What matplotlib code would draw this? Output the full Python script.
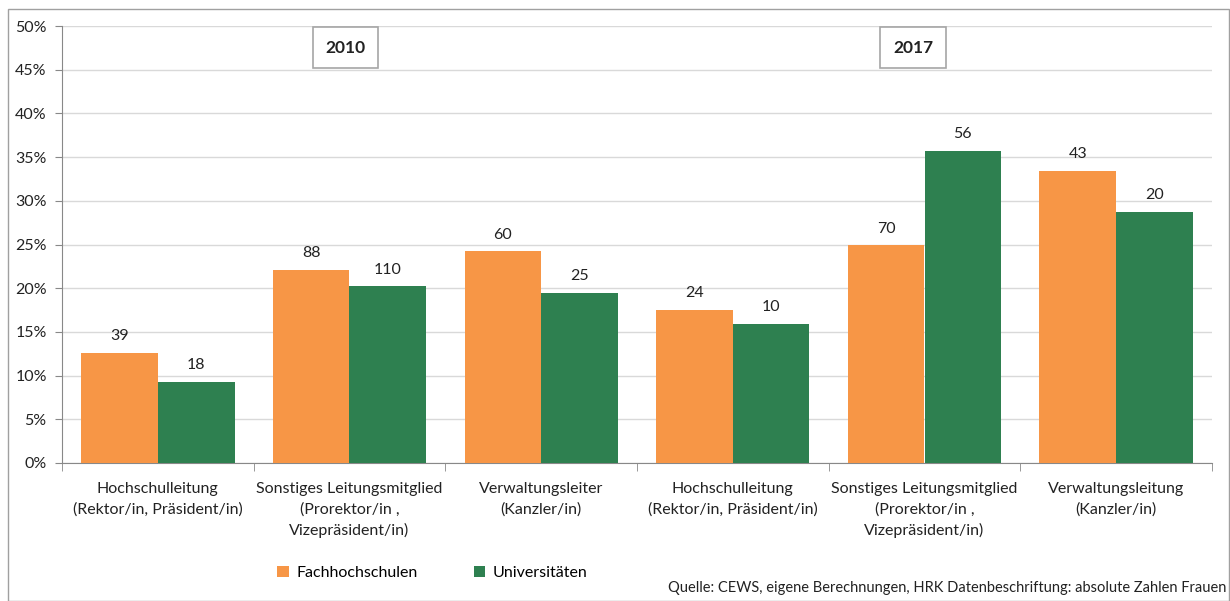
import matplotlib
matplotlib.use("Agg")
import matplotlib.pyplot as plt
import numpy as np
from matplotlib.patches import Rectangle

categories = [
    "Hochschulleitung\n(Rektor/in, Präsident/in)",
    "Sonstiges Leitungsmitglied\n(Prorektor/in ,\nVizepräsident/in)",
    "Verwaltungsleiter\n(Kanzler/in)",
    "Hochschulleitung\n(Rektor/in, Präsident/in)",
    "Sonstiges Leitungsmitglied\n(Prorektor/in ,\nVizepräsident/in)",
    "Verwaltungsleitung\n(Kanzler/in)",
]
fh_pct = [12.6, 22.1, 24.2, 17.5, 24.9, 33.4]
uni_pct = [9.3, 20.2, 19.5, 15.9, 35.7, 28.7]
fh_counts = [39, 88, 60, 24, 70, 43]
uni_counts = [18, 110, 25, 10, 56, 20]
years = ["2010", "2017"]
series_names = ["Fachhochschulen", "Universitäten"]
source = "Quelle: CEWS, eigene Berechnungen, HRK Datenbeschriftung: absolute Zahlen Frauen"

plt.rcParams['font.family'] = ['Lato', 'DejaVu Sans']
ORANGE = "#F79646"
GREEN = "#2E8050"
TXT = "#222222"

fig = plt.figure(figsize=(12.3, 6.01), dpi=100)
ax = fig.add_axes([62/1230, 138/601, (1212-62)/1230, (463-26)/601])

x = np.arange(len(categories))
w = 0.4
b1 = ax.bar(x - w/2, fh_pct, w, color=ORANGE, label=series_names[0], zorder=3)
b2 = ax.bar(x + w/2, uni_pct, w, color=GREEN, label=series_names[1], zorder=3)
for rect, c in zip(b1, fh_counts):
    ax.annotate(str(c), (rect.get_x() + rect.get_width()/2, rect.get_height()),
                xytext=(0, 7), textcoords="offset points", ha="center", va="bottom",
                fontsize=11.5, color=TXT)
for rect, c in zip(b2, uni_counts):
    ax.annotate(str(c), (rect.get_x() + rect.get_width()/2, rect.get_height()),
                xytext=(0, 7), textcoords="offset points", ha="center", va="bottom",
                fontsize=11.5, color=TXT)

ax.set_xlim(-0.5, len(categories) - 0.5)
ax.set_ylim(0, 50)
ax.set_yticks(np.arange(0, 51, 5))
ax.set_yticklabels([f"{v}%" for v in range(0, 51, 5)], fontsize=11.5, color=TXT)
ax.yaxis.grid(True, color="#D9D9D9", linewidth=1, zorder=0)
ax.set_axisbelow(True)

ax.set_xticks(x)
ax.set_xticklabels(categories, fontsize=11.5, color=TXT, linespacing=1.5)
ax.tick_params(axis="x", length=0, pad=14)
ax.set_xticks(np.arange(-0.5, len(categories), 1), minor=True)
ax.tick_params(axis="x", which="minor", length=6, color="#888888")
ax.tick_params(axis="y", length=5, color="#888888", pad=6)

for s in ["top", "right"]:
    ax.spines[s].set_visible(False)
ax.spines["left"].set_color("#888888")
ax.spines["bottom"].set_color("#888888")

for xp, yr in zip([0.98, 3.94], years):
    ax.text(xp, 47.5, yr, ha="center", va="center", fontsize=12.5,
            fontweight="bold", color=TXT,
            bbox=dict(boxstyle="square,pad=0.72", facecolor="white", edgecolor="#A6A6A6", linewidth=1.2))

fig.legend(handles=[b1, b2], labels=series_names, loc="center left",
           bbox_to_anchor=(263/1230, 1 - 573/601), ncol=2, frameon=False,
           fontsize=11.5, handlelength=0.7, handleheight=0.7, columnspacing=3.5,
           handletextpad=0.5)

fig.text(1226/1230, 1 - 588/601, source, ha="right", va="center", fontsize=10.5, color=TXT)

fig.patches.append(Rectangle((8/1230, 0), 1 - 8/1230 - 1/1230, 1 - 9/601, transform=fig.transFigure,
                             fill=False, edgecolor="#A0A0A0", linewidth=1))

fig.savefig("out.png", dpi=100)
